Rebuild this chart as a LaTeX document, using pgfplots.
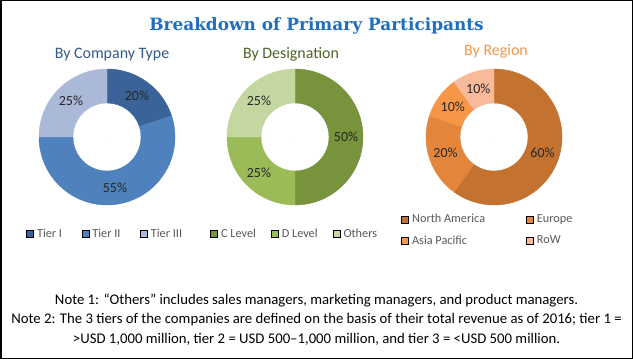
\documentclass[border=0pt]{standalone}
\usepackage{pgfplots}
\pgfplotsset{compat=1.18}
\usepackage{pgfplotstable}
\usepackage{fontspec}
\setmainfont{Carlito}
\newfontfamily\titlefont{DejaVu Serif}
\definecolor{comp0}{HTML}{3A6499}
\definecolor{comp1}{HTML}{4F81BD}
\definecolor{comp2}{HTML}{AAB9D8}
\definecolor{des0}{HTML}{77933C}
\definecolor{des1}{HTML}{9BBB59}
\definecolor{des2}{HTML}{C4D7A0}
\definecolor{reg0}{HTML}{C3732F}
\definecolor{reg1}{HTML}{E3863B}
\definecolor{reg2}{HTML}{F79646}
\definecolor{reg3}{HTML}{F8BA9A}
\definecolor{lblc}{HTML}{262626}
\definecolor{legc}{HTML}{595959}
\definecolor{titlec}{HTML}{1F6FBF}
\definecolor{subone}{HTML}{345A88}
\definecolor{subtwo}{HTML}{4F6228}
\definecolor{subthree}{HTML}{F79646}

\pgfplotstableread{
start val ci
0 20 0
20 55 1
75 25 2
}\companydata
\pgfplotstableread{
start val ci
0 50 0
50 25 1
75 25 2
}\desigdata
\pgfplotstableread{
start val ci
0 60 0
60 20 1
80 10 2
90 10 3
}\regiondata

\pgfplotsset{
  donutaxis/.style={
    width=140bp, height=140bp, scale only axis, anchor=center,
    xmin=-1, xmax=1, ymin=-1, ymax=1, hide axis,
    legend image code/.code={\fill[##1] (0bp,-3.5bp) rectangle (7bp,3.5bp);},
    legend style={draw=none, fill=none, font=\fontsize{12.3}{14}\selectfont, text=legc,
      anchor=west, cells={anchor=west}, inner sep=0pt,
      /tikz/every odd column/.append style={column sep=1.5bp}},
  },
  donut/.style={
    forget plot, scatter, only marks, mark=*, mark size=0pt,
    mark options={draw=none, fill=none},
    point meta=\thisrow{val},
    visualization depends on={90-3.6*\thisrow{start} \as \sa},
    visualization depends on={90-3.6*(\thisrow{start}+\thisrow{val}) \as \ea},
    visualization depends on={\thisrow{val} \as \pv},
    visualization depends on={\thisrow{ci} \as \ci},
    scatter/@pre marker code/.code={%
      \pgfmathtruncatemacro\cidx{\ci}%
      \pgfmathtruncatemacro\pvi{\pv}%
      \fill[#1\cidx] (\sa:68bp) arc[start angle=\sa, end angle=\ea, radius=68bp]
        -- (\ea:34bp) arc[start angle=\ea, end angle=\sa, radius=34bp] -- cycle;
      \pgfmathsetmacro\ma{(\sa+\ea)/2}%
      \node[font=\fontsize{14}{16}\selectfont, text=lblc] at (\ma:51bp) {\pvi\%};
    },
    scatter/@post marker code/.code={},
  },
}

\begin{document}
\begin{tikzpicture}[x=1bp, y=1bp]
\useasboundingbox (0,0) rectangle (633,359);
\fill[white] (0,0) rectangle (633,359);

\node[font=\titlefont\bfseries\fontsize{17}{19}\selectfont, text=titlec] at (316.5,359-26) {Breakdown of Primary Participants};
\node[font=\fontsize{16}{18}\selectfont, text=subone] at (112,359-54.5) {By Company Type};
\node[font=\fontsize{16}{18}\selectfont, text=subtwo] at (291,359-54.5) {By Designation};
\node[font=\fontsize{16}{18}\selectfont, text=subthree] at (496,359-51.5) {By Region};

\begin{axis}[donutaxis, at={(107bp,222bp)},
  legend columns=3, legend style={at={(-0.079,-0.193)},
  /tikz/every even column/.append style={column sep=17.5bp}}]
\addplot[donut=comp] table[x expr=0, y expr=0] {\companydata};
\addlegendimage{fill=comp0}\addlegendentry{Tier I}
\addlegendimage{fill=comp1}\addlegendentry{Tier II}
\addlegendimage{fill=comp2}\addlegendentry{Tier III}
\end{axis}

\begin{axis}[donutaxis, at={(295bp,222bp)},
  legend columns=3, legend style={at={(-0.107,-0.193)},
  /tikz/every even column/.append style={column sep=13bp}}]
\addplot[donut=des] table[x expr=0, y expr=0] {\desigdata};
\addlegendimage{fill=des0}\addlegendentry{C Level}
\addlegendimage{fill=des1}\addlegendentry{D Level}
\addlegendimage{fill=des2}\addlegendentry{Others}
\end{axis}

\begin{axis}[donutaxis, at={(494bp,222bp)},
  legend columns=2, legend style={at={(-0.164,-0.164)}, row sep=7.5bp,
  /tikz/every even column/.append style={column sep=39bp}}]
\addplot[donut=reg] table[x expr=0, y expr=0] {\regiondata};
\addlegendimage{fill=reg0}\addlegendentry{North America}
\addlegendimage{fill=reg1}\addlegendentry{Europe}
\addlegendimage{fill=reg2}\addlegendentry{Asia Pacific}
\addlegendimage{fill=reg3}\addlegendentry{RoW}
\end{axis}

\node[font=\fontsize{14.8}{17}\selectfont] at (316.5,359-300) {Note 1: “Others” includes sales managers, marketing managers, and product managers.};
\node[font=\fontsize{14.8}{17}\selectfont] at (316.5,359-320) {Note 2: The 3 tiers of the companies are defined on the basis of their total revenue as of 2016; tier 1 =};
\node[font=\fontsize{14.8}{17}\selectfont] at (316.5,359-339) {>USD 1,000 million, tier 2 = USD 500–1,000 million, and tier 3 = <USD 500 million.};

\draw[line width=1.5bp] (0.75,0.75) rectangle (632.25,358.25);
\end{tikzpicture}
\end{document}
